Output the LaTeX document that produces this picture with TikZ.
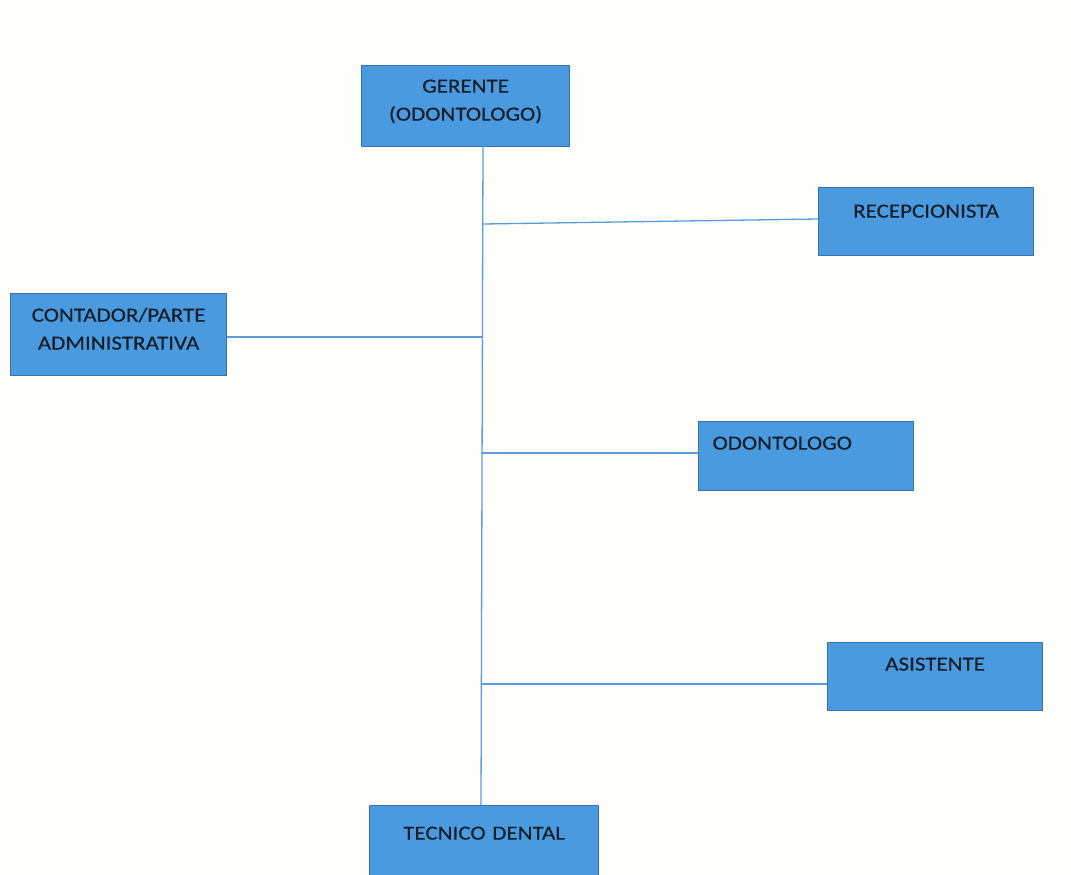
\documentclass[tikz,border=0pt]{standalone}
\usepackage{fontspec}
\setmainfont{Carlito}
\newfontfamily\cajafuente[FakeStretch=1.15,FakeBold=0.3]{Carlito}
\definecolor{cajafondo}{RGB}{74,154,223}
\definecolor{cajaborde}{RGB}{58,114,172}
\definecolor{linea}{RGB}{91,157,218}
\definecolor{papel}{RGB}{253,253,250}
\definecolor{letra}{RGB}{22,30,40}
\begin{document}
\begin{tikzpicture}[x=1pt,y=-1pt]
    % Define style for boxes and lines
    \tikzstyle{puesto} = [draw=cajaborde, line width=1.2pt, fill=cajafondo, rectangle, inner xsep=0pt, inner ysep=0pt, font=\cajafuente\fontsize{20}{28}\selectfont, text=letra]
    \tikzstyle{rama} = [draw=linea, line width=1.3pt]

    \fill[papel] (0,0) rectangle (1071,875);
    \useasboundingbox (0,0) rectangle (1071,875);

    % Draw the boxes
    \node(gerente)[puesto, text width=208pt, align=center, text height=27pt, text depth=54pt, anchor=north west] at (361,65) {GERENTE\\(ODONTOLOGO)};
    \node(recep)[puesto, text width=215pt, align=center, text height=30pt, text depth=38pt, anchor=north west] at (818,187) {RECEPCIONISTA};
    \node(contador)[puesto, text width=216pt, align=center, text height=28pt, text depth=54pt, anchor=north west] at (10,293) {CONTADOR/PARTE\\ADMINISTRATIVA};
    \node(odonto)[puesto, text width=187pt, align=left, inner xsep=14pt, text height=28pt, text depth=41pt, anchor=north west] at (698,421) {ODONTOLOGO};
    \node(asist)[puesto, text width=215pt, align=center, text height=28pt, text depth=40pt, anchor=north west] at (827,642) {ASISTENTE};
    \node(tecnico)[puesto, text width=229pt, align=center, text height=34pt, text depth=50pt, anchor=north west] at (369,805) {TECNICO DENTAL};

    % Trunk and branches
    \coordinate (arriba) at (483,146);
    \coordinate (abajo) at (481,805);
    \coordinate (r1) at (483,224);
    \coordinate (r2) at (482,337);
    \coordinate (r3) at (482,453);
    \coordinate (r4) at (481,684);
    \draw[rama] (arriba) -- (abajo);
    \draw[rama] (r1) -- (recep.west |- 0,219);
    \draw[rama] (contador.east |- r2) -- (r2);
    \draw[rama] (r3) -- (odonto.west |- r3);
    \draw[rama] (r4) -- (asist.west |- r4);
\end{tikzpicture}
\end{document}
